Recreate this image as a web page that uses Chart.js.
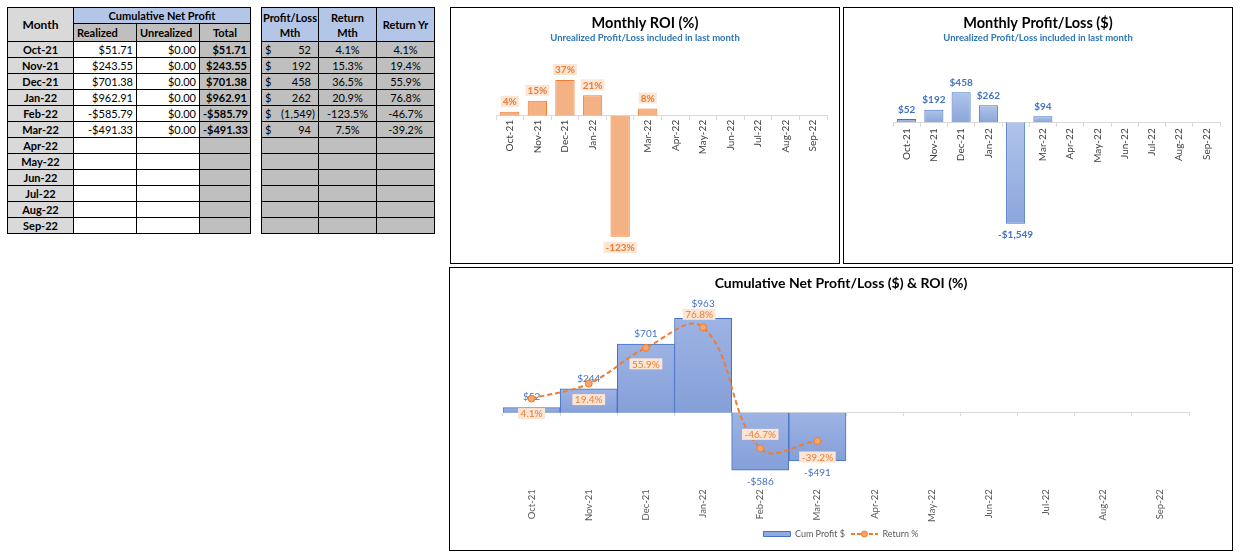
<!DOCTYPE html>
<html><head><meta charset="utf-8">
<script src="https://cdn.jsdelivr.net/npm/chart.js@4/dist/chart.umd.min.js"></script>
<style>
html,body{margin:0;padding:0;background:#fff;width:1244px;height:558px;overflow:hidden;font-family:Lato,"Noto Sans",sans-serif}
.box{position:absolute;border:1px solid #000;box-sizing:border-box;background:#fff}
.box canvas{display:block}
table{position:absolute;border-collapse:collapse;table-layout:fixed;font-size:11px;color:#000;font-family:Lato,sans-serif}
td{border:1px solid #000;padding:0 3px;white-space:nowrap;overflow:hidden;line-height:14px;box-sizing:border-box}
.hd{font-weight:bold;text-align:center}
.gl{background:#D9D9D9}
.g2{background:#BFBFBF}
.bl{background:#B4C6E7}
.l{text-align:left}.r{text-align:right}.c{text-align:center}
.b{font-weight:bold}
#t2 td.hd{padding:0;line-height:15px}
</style></head><body>
<table id="t1" style="left:7px;top:7px;width:243px">
<colgroup><col style="width:66px"><col style="width:63px"><col style="width:63px"><col style="width:51px"></colgroup>
<tbody id="t1b"></tbody></table>
<table id="t2" style="left:261px;top:7px;width:173px">
<colgroup><col style="width:57px"><col style="width:58px"><col style="width:58px"></colgroup>
<tbody id="t2b"></tbody></table>

<div class="box" style="left:450px;top:7px;width:390px;height:257px"><canvas id="c1"></canvas></div>
<div class="box" style="left:843px;top:7px;width:390px;height:257px"><canvas id="c2"></canvas></div>
<div class="box" style="left:449px;top:267px;width:784px;height:284px"><canvas id="c3"></canvas></div>
<script>
// ---------- DATA ----------
const months = ['Oct-21','Nov-21','Dec-21','Jan-22','Feb-22','Mar-22','Apr-22','May-22','Jun-22','Jul-22','Aug-22','Sep-22'];
const realized = [51.71, 243.55, 701.38, 962.91, -585.79, -491.33];
const unrealized = [0.00, 0.00, 0.00, 0.00, 0.00, 0.00];
const cumTotal = [51.71, 243.55, 701.38, 962.91, -585.79, -491.33];
const profitLossMth = [52, 192, 458, 262, -1549, 94];
const returnMth = [4.1, 15.3, 36.5, 20.9, -123.5, 7.5];
const returnYr = [4.1, 19.4, 55.9, 76.8, -46.7, -39.2];

// ---------- TABLES ----------
const FONT = 'Lato';
Chart.defaults.font.family = FONT;
function money(v){ const s='$'+Math.abs(v).toLocaleString('en-US',{minimumFractionDigits:2,maximumFractionDigits:2}); return v<0?'-'+s:s; }
function pct(v){ return v.toFixed(1)+'%'; }
function acct(v){ return v<0 ? '('+Math.abs(v).toLocaleString('en-US')+')' : v.toLocaleString('en-US')+'<span style="display:inline-block;width:4px"></span>'; }
let h1 = '<tr style="height:16px"><td rowspan="2" class="hd gl" style="font-size:12px">Month</td><td colspan="3" class="hd bl">Cumulative Net Profit</td></tr>'+
         '<tr style="height:18px"><td class="hd g2 l">Realized</td><td class="hd g2 l">Unrealized</td><td class="hd g2 c">Total</td></tr>';
let h2 = '<tr style="height:34px"><td class="hd bl">Profit/Loss<br>Mth</td><td class="hd bl">Return<br>Mth</td><td class="hd bl">Return Yr</td></tr>';
months.forEach((m,i)=>{
  const has = i < realized.length;
  h1 += '<tr style="height:16px"><td class="hd gl">'+m+'</td>'+
        '<td class="r">'+(has?money(realized[i]):'')+'</td>'+
        '<td class="r">'+(has?money(unrealized[i]):'')+'</td>'+
        '<td class="r b g2">'+(has?money(cumTotal[i]):'')+'</td></tr>';
  h2 += '<tr style="height:16px">'+
        '<td class="g2 r">'+(has?'<span style="float:left">$</span>'+acct(profitLossMth[i]):'')+'</td>'+
        '<td class="g2 c">'+(has?pct(returnMth[i]):'')+'</td>'+
        '<td class="g2 c">'+(has?pct(returnYr[i]):'')+'</td></tr>';
});
document.getElementById('t1b').innerHTML = h1;
document.getElementById('t2b').innerHTML = h2;

// ---------- COLOURS ----------
const ORANGE = '#ED7D31', PEACH = '#F4B183', PEACH_BG = '#FBE5D6';
const BLUE = '#4472C4', SUBBLUE = '#2E75B6';

// ---------- PLUGINS ----------
const valueLabels = {
  id: 'valueLabels',
  afterDatasetDraw(chart, args) {
    const ds = chart.data.datasets[args.index];
    const cfg = ds.labelCfg;
    if (!cfg) return;
    const c = chart.ctx;
    c.save();
    c.font = (cfg.weight || 'normal') + ' ' + cfg.size + 'px ' + FONT;
    c.textAlign = 'center'; c.textBaseline = 'middle';
    args.meta.data.forEach((el, i) => {
      const v = ds.data[i];
      if (v == null) return;
      const text = cfg.format(v);
      const off = cfg.offsets ? cfg.offsets[i] : cfg.offset;
      let y;
      if (cfg.kind === 'bar') {
        const top = Math.min(el.y, el.base), bot = Math.max(el.y, el.base);
        y = v >= 0 ? top - off : bot + off;
      } else {
        y = (cfg.positions[i] === 'above') ? el.y - off : el.y + off;
      }
      const x = el.x + (cfg.dx ? cfg.dx[i] : 0);
      if (cfg.bg) {
        const w = c.measureText(text).width + 2 * cfg.padX;
        c.fillStyle = cfg.bg;
        c.fillRect(x - w / 2, y - cfg.boxH / 2, w, cfg.boxH);
      }
      c.fillStyle = cfg.color;
      c.fillText(text, x, y + 0.5);
    });
    c.restore();
  }
};
const legendMarker = {
  id: 'legendMarker',
  afterDraw(chart) {
    const lg = chart.legend;
    if (!lg || !lg.legendHitBoxes || !lg.legendHitBoxes[1]) return;
    const hb = lg.legendHitBoxes[1];
    const bw = lg.options.labels.pointStyleWidth;
    const c = chart.ctx;
    c.save();
    c.beginPath();
    c.arc(hb.left + bw / 2, hb.top + hb.height / 2, 3, 0, Math.PI * 2);
    c.fillStyle = '#F4A46D'; c.strokeStyle = ORANGE; c.lineWidth = 1;
    c.fill(); c.stroke();
    c.restore();
  }
};
function barGradient(light, dark) {
  return (ctx) => {
    const chart = ctx.chart, sc = chart.scales[ctx.dataset.yAxisID || 'y'];
    const v = ctx.raw;
    if (!sc || v == null || !isFinite(sc.getPixelForValue(0))) return dark;
    const a = sc.getPixelForValue(v), b = sc.getPixelForValue(0);
    const t = Math.min(a, b), u = Math.max(a, b);
    if (!(u - t > 0)) return dark;
    const g = chart.ctx.createLinearGradient(0, t, 0, u);
    g.addColorStop(0, light); g.addColorStop(1, dark);
    return g;
  };
}
// invisible axis used only to reserve horizontal space
function spacer(pos, w, extra) {
  return Object.assign({ position: pos, display: true, grid: { display: false }, border: { display: false },
    ticks: { display: false }, afterFit: (s) => { s.width = w; } }, extra || {});
}

// ---------- CHARTS 1 & 2 ----------
function smallBar(id, data, opts) {
  return new Chart(document.getElementById(id), {
    type: 'bar',
    data: { labels: months, datasets: [{
      data: data,
      backgroundColor: opts.bg, borderColor: opts.border, borderWidth: 1,
      barPercentage: 0.7, categoryPercentage: 1,
      labelCfg: opts.labelCfg
    }]},
    options: {
      responsive: true, maintainAspectRatio: false, animation: false,
      layout: { padding: { left: 0, right: 0, top: 0, bottom: 10 } },
      plugins: {
        legend: { display: false }, tooltip: { enabled: false },
        title: { display: true, text: opts.title, color: '#000', font: { size: 14.5, weight: 'bold' }, padding: { top: 7, bottom: 0 } },
        subtitle: { display: true, text: 'Unrealized Profit/Loss included in last month', color: SUBBLUE, font: { size: 9.5, weight: 'bold' }, padding: { top: 0, bottom: 14.2 } }
      },
      scales: {
        x: {
          position: { y: 0 },
          grid: { drawOnChartArea: false, drawTicks: true, tickLength: 4, color: '#D9D9D9', offset: true },
          border: { color: '#D9D9D9', width: 1 },
          ticks: { autoSkip: false, minRotation: 90, maxRotation: 90, padding: opts.tickPad, color: '#404040', font: { size: 10 } }
        },
        y: spacer('left', opts.left, { min: opts.min, max: opts.max }),
        yr: spacer('right', 12, { type: 'linear' })
      }
    },
    plugins: [valueLabels]
  });
}
const ch1 = smallBar('c1', returnMth, {
  title: 'Monthly ROI (%)', bg: PEACH, border: ORANGE, left: 45, min: -140, max: 59, tickPad: 0,
  labelCfg: { kind: 'bar', size: 10, weight: 'bold', color: ORANGE, bg: PEACH_BG, padX: 2, boxH: 11, offset: 10.5,
              format: v => Math.round(v) + '%' }
});
const ch2 = smallBar('c2', profitLossMth, {
  title: 'Monthly Profit/Loss ($)', bg: barGradient('#B0C3EA', '#8CA6DB'), border: BLUE, left: 49, min: -1995, max: 982, tickPad: 2,
  labelCfg: { kind: 'bar', size: 10, weight: 'bold', color: BLUE, offset: 10,
              format: v => (v < 0 ? '-$' : '$') + Math.abs(v).toLocaleString('en-US') }
});

// ---------- CHART 3 : Cumulative ----------
const ch3 = new Chart(document.getElementById('c3'), {
  data: { labels: months, datasets: [
    { type: 'bar', label: 'Cum Profit $', data: cumTotal, xAxisID: 'x', yAxisID: 'y', order: 1,
      backgroundColor: barGradient('#9DB3E4', '#859FD8'), borderColor: BLUE, borderWidth: 1,
      barPercentage: 1, categoryPercentage: 1,
      labelCfg: { kind: 'bar', size: 10, color: BLUE, offsets: [11, 11, 11, 15, 11, 11],
                  format: v => (v < 0 ? '-$' : '$') + Math.round(Math.abs(v)).toLocaleString('en-US') } },
    { type: 'line', label: 'Return %', data: returnYr, xAxisID: 'x', yAxisID: 'y2', order: 0,
      borderColor: ORANGE, borderWidth: 2, borderDash: [5, 3], tension: 0.4, fill: false,
      pointRadius: 3.5, pointBackgroundColor: '#F4A46D', pointBorderColor: ORANGE, pointBorderWidth: 1,
      labelCfg: { kind: 'line', size: 10, color: ORANGE, bg: PEACH_BG, padX: 2.5, boxH: 11,
                  offsets: [15, 16, 16, 13, 14, 16], dx: [0, 0, 0, -4, 0, 0],
                  positions: ['below', 'below', 'below', 'above', 'above', 'below'],
                  format: v => v.toFixed(1) + '%' } }
  ]},
  options: {
    responsive: true, maintainAspectRatio: false, animation: false,
    layout: { padding: { left: 0, right: 0, top: 0, bottom: 1.5 } },
    plugins: {
      tooltip: { enabled: false },
      title: { display: true, text: 'Cumulative Net Profit/Loss ($) & ROI (%)', color: '#000', font: { size: 14, weight: 'bold' }, padding: { top: 7, bottom: 8.2 } },
      legend: { display: true, position: 'bottom',
        labels: { usePointStyle: true, pointStyleWidth: 27, boxHeight: 5, padding: 6, color: '#595959', font: { size: 9 },
          generateLabels: (chart) => {
            const d = chart.data.datasets;
            return [
              { text: d[0].label, fillStyle: '#93AAE0', strokeStyle: BLUE, lineWidth: 1, pointStyle: 'rect', datasetIndex: 0, fontColor: '#595959' },
              { text: d[1].label, fillStyle: 'rgba(0,0,0,0)', strokeStyle: ORANGE, lineWidth: 2, lineDash: [4, 2], pointStyle: 'line', datasetIndex: 1, fontColor: '#595959' }
            ];
          } } }
    },
    scales: {
      x: { type: 'category', position: { y: 0 }, offset: true,
           grid: { drawOnChartArea: false, drawTicks: true, tickLength: 3, color: '#D9D9D9', offset: true },
           border: { color: '#D9D9D9', width: 1 }, ticks: { display: false } },
      x2: { type: 'category', position: 'bottom', offset: true, grid: { display: false }, border: { display: false },
            ticks: { autoSkip: false, minRotation: 90, maxRotation: 90, padding: 0, color: '#595959', font: { size: 9.5 } },
            afterFit: (s) => { s.height = 42.2; } },
      y: spacer('left', 53, { min: -700, max: 1150 }),
      y2: spacer('right', 43, { min: -80.3, max: 104.7 })
    }
  },
  plugins: [valueLabels, legendMarker]
});
</script>
</body></html>
